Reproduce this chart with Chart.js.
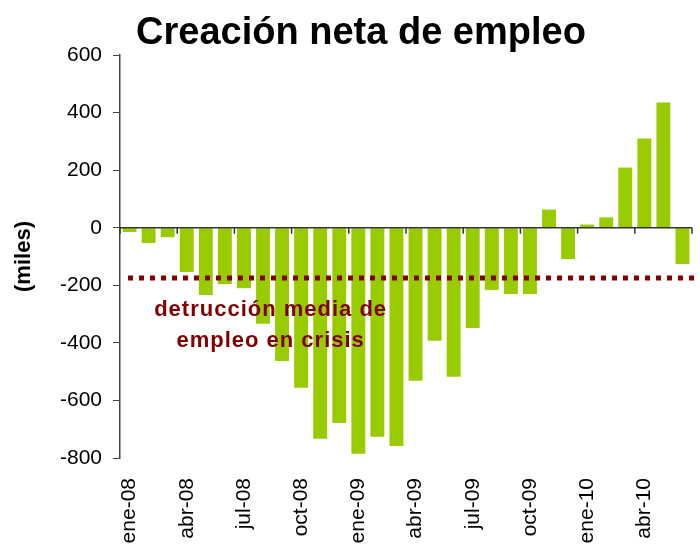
<!DOCTYPE html>
<html>
<head>
<meta charset="utf-8">
<script src="https://cdn.jsdelivr.net/npm/chart.js@4"></script>
<style>
  html, body { margin: 0; padding: 0; background: #fff; }
  #wrap { width: 700px; height: 544px; }
</style>
</head>
<body>
<div id="wrap"><canvas id="chart" width="700" height="544"></canvas></div>
<script>
// months, ene-08 .. jun-10
const months = ['ene-08','feb-08','mar-08','abr-08','may-08','jun-08','jul-08','ago-08','sep-08','oct-08','nov-08','dic-08',
                'ene-09','feb-09','mar-09','abr-09','may-09','jun-09','jul-09','ago-09','sep-09','oct-09','nov-09','dic-09',
                'ene-10','feb-10','mar-10','abr-10','may-10','jun-10'];
// net job creation, thousands
const empleo = [-15, -53, -33, -154, -234, -196, -210, -334, -463, -556, -733, -678,
                -785, -726, -758, -532, -393, -518, -348, -216, -230, -230, 63, -109,
                11, 36, 209, 310, 435, -126];
const mediaCrisis = -175;
const notaLineas = ['detrucción media de', 'empleo en crisis'];
const notaValores = [-286, -394];
const yTicks = [600, 400, 200, 0, -200, -400, -600, -800];

const FONT = "'Liberation Sans', Arial, sans-serif";

const extras = {
    id: 'extras',
    afterDatasetsDraw(chart) {
        const ctx = chart.ctx;
        const xs = chart.scales.x, ys = chart.scales.y;
        const area = chart.chartArea;
        const y0 = ys.getPixelForValue(0);

        // zero axis with tick marks every 3 months
        ctx.save();
        ctx.strokeStyle = '#333';
        ctx.lineWidth = 1.5;
        ctx.beginPath();
        ctx.moveTo(area.left, y0);
        ctx.lineTo(area.right, y0);
        for (let i = 0; i <= months.length; i += 3) {
            let x;
            if (i === 0) x = area.left;
            else if (i >= months.length) x = area.right;
            else x = (xs.getPixelForValue(i - 1) + xs.getPixelForValue(i)) / 2;
            ctx.moveTo(x, y0);
            ctx.lineTo(x, y0 + 6);
        }
        ctx.stroke();

        // average destruction line
        const ym = ys.getPixelForValue(mediaCrisis);
        ctx.strokeStyle = '#800000';
        ctx.lineWidth = 5;
        ctx.setLineDash([5, 6]);
        ctx.beginPath();
        ctx.moveTo(area.left + 8, ym);
        ctx.lineTo(chart.width, ym);
        ctx.stroke();
        ctx.setLineDash([]);

        // note text
        ctx.fillStyle = '#800000';
        ctx.font = 'bold 22px ' + FONT;
        ctx.letterSpacing = '1px';
        ctx.textAlign = 'center';
        ctx.textBaseline = 'middle';
        const xn = xs.getPixelForValue(7.4);
        notaLineas.forEach((t, i) => ctx.fillText(t, xn, ys.getPixelForValue(notaValores[i])));
        ctx.letterSpacing = '0px';

        // title
        ctx.fillStyle = '#000';
        ctx.font = 'bold 38px ' + FONT;
        ctx.textBaseline = 'alphabetic';
        ctx.fillText('Creación neta de empleo', 361, 44);
        ctx.restore();
    }
};

const cfg = {
    type: 'bar',
    data: {
        labels: months,
        datasets: [{
            label: 'Creación neta de empleo',
            data: empleo,
            backgroundColor: '#99cc00',
            borderWidth: 0,
            barPercentage: 0.73,
            categoryPercentage: 1.0
        }]
    },
    options: {
        responsive: false,
        animation: false,
        layout: { padding: { top: 55, right: 8, left: 0, bottom: 0 } },
        plugins: {
            legend: { display: false },
            tooltip: { enabled: false },
            title: { display: false }
        },
        scales: {
            x: {
                grid: { display: false },
                border: { display: false },
                ticks: {
                    autoSkip: false,
                    minRotation: 90,
                    maxRotation: 90,
                    padding: 12,
                    color: '#000',
                    font: { family: FONT, size: 21 },
                    callback: (v, i) => (i % 3 === 0 ? months[i] : '')
                },
                afterFit: s => { s.height = 86; s.paddingLeft = 0; s.paddingRight = 0; }
            },
            y: {
                min: -800,
                max: 600,
                afterBuildTicks: s => { s.ticks = yTicks.map(v => ({ value: v })); },
                grid: { drawOnChartArea: false, drawTicks: true, tickLength: 7, color: '#444', lineWidth: 1 },
                border: { display: true, color: '#444', width: 1.5 },
                ticks: {
                    padding: 11,
                    color: '#000',
                    font: { family: FONT, size: 21 }
                },
                title: {
                    display: true,
                    text: '(miles)',
                    color: '#000',
                    font: { family: FONT, size: 22, weight: 'bold' },
                    padding: { top: 11, bottom: 0 }
                },
                afterFit: s => { s.width = 120; s.paddingTop = 0; s.paddingBottom = 0; }
            }
        }
    },
    plugins: [extras]
};

const canvas = document.getElementById('chart');
const myChart = new Chart(canvas, cfg);
</script>
</body>
</html>
